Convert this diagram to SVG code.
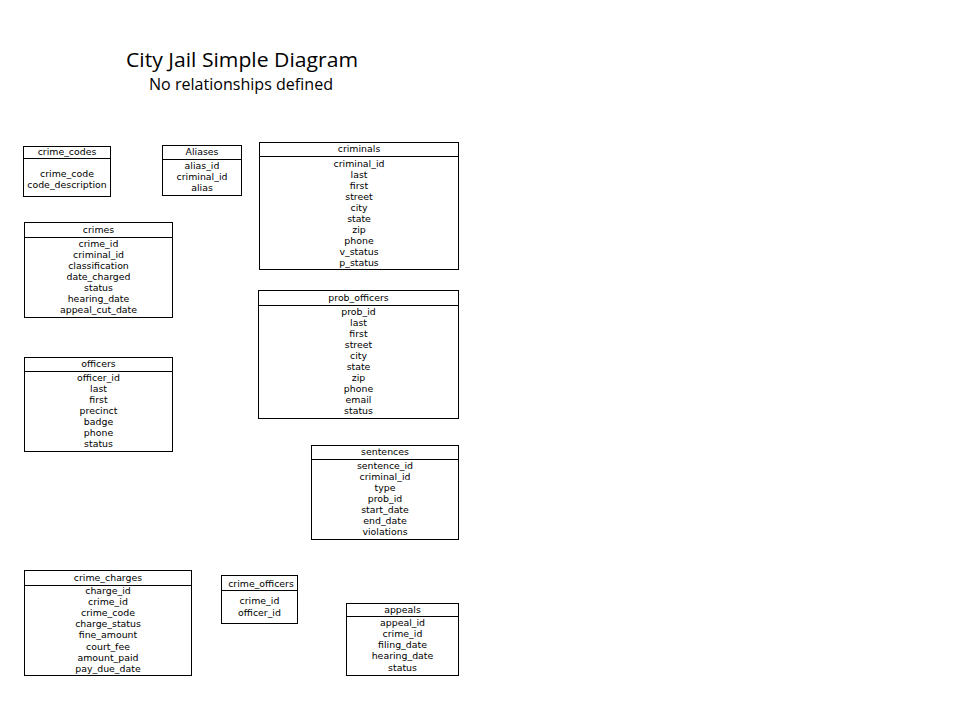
<svg xmlns="http://www.w3.org/2000/svg" width="960" height="720" viewBox="0 0 960 720">
<style>
.box{fill:#fff;stroke:#000;stroke-width:1}
.ln{stroke:#000;stroke-width:1}
text{font-family:"DejaVu Sans","Liberation Sans",sans-serif;font-size:9.4px;fill:#000;text-anchor:middle}
.t1{font-family:"Open Sans","Liberation Sans",sans-serif;font-size:20px;text-anchor:start}
.t2{font-family:"Open Sans","Liberation Sans",sans-serif;font-size:16px;text-anchor:start}
</style>
<rect width="960" height="720" fill="#fff"/>
<g id="title">
<text class="t1" x="126" y="66.5" textLength="232" lengthAdjust="spacingAndGlyphs">City Jail Simple Diagram</text>
<text class="t2" x="149" y="90" textLength="184" lengthAdjust="spacingAndGlyphs">No relationships defined</text>
</g>
<g id="connectors"></g>
<g id="crime_codes">
<rect class="box" x="23.5" y="146.5" width="87" height="50"/>
<line class="ln" x1="23.5" y1="158.5" x2="110.5" y2="158.5"/>
<text x="67" y="155">crime_codes</text>
<text x="67" y="176.5">crime_code</text>
<text x="67" y="187.5">code_description</text>
</g>
<g id="aliases">
<rect class="box" x="162.5" y="145.5" width="79" height="50"/>
<line class="ln" x1="162.5" y1="159.5" x2="241.5" y2="159.5"/>
<text x="202" y="155">Aliases</text>
<text x="202" y="168.5">alias_id</text>
<text x="202" y="179.5">criminal_id</text>
<text x="202" y="190.5">alias</text>
</g>
<g id="criminals">
<rect class="box" x="259.5" y="142.5" width="199" height="127"/>
<line class="ln" x1="259.5" y1="156.5" x2="458.5" y2="156.5"/>
<text x="359" y="152">criminals</text>
<text x="359" y="166.5">criminal_id</text>
<text x="359" y="177.5">last</text>
<text x="359" y="188.5">first</text>
<text x="359" y="199.5">street</text>
<text x="359" y="210.5">city</text>
<text x="359" y="221.5">state</text>
<text x="359" y="232.5">zip</text>
<text x="359" y="243.5">phone</text>
<text x="359" y="254.5">v_status</text>
<text x="359" y="265.5">p_status</text>
</g>
<g id="crimes">
<rect class="box" x="24.5" y="222.5" width="148" height="95"/>
<line class="ln" x1="24.5" y1="237.5" x2="172.5" y2="237.5"/>
<text x="98.5" y="233">crimes</text>
<text x="98.5" y="246.5">crime_id</text>
<text x="98.5" y="257.5">criminal_id</text>
<text x="98.5" y="268.5">classification</text>
<text x="98.5" y="279.5">date_charged</text>
<text x="98.5" y="290.5">status</text>
<text x="98.5" y="301.5">hearing_date</text>
<text x="98.5" y="312.5">appeal_cut_date</text>
</g>
<g id="officers">
<rect class="box" x="24.5" y="357.5" width="148" height="94"/>
<line class="ln" x1="24.5" y1="371.5" x2="172.5" y2="371.5"/>
<text x="98.5" y="367">officers</text>
<text x="98.5" y="380.5">officer_id</text>
<text x="98.5" y="391.5">last</text>
<text x="98.5" y="402.5">first</text>
<text x="98.5" y="413.5">precinct</text>
<text x="98.5" y="424.5">badge</text>
<text x="98.5" y="435.5">phone</text>
<text x="98.5" y="446.5">status</text>
</g>
<g id="prob_officers">
<rect class="box" x="258.5" y="290.5" width="200" height="128"/>
<line class="ln" x1="258.5" y1="305.5" x2="458.5" y2="305.5"/>
<text x="358.5" y="300.5">prob_officers</text>
<text x="358.5" y="314.5">prob_id</text>
<text x="358.5" y="325.5">last</text>
<text x="358.5" y="336.5">first</text>
<text x="358.5" y="347.5">street</text>
<text x="358.5" y="358.5">city</text>
<text x="358.5" y="369.5">state</text>
<text x="358.5" y="380.5">zip</text>
<text x="358.5" y="391.5">phone</text>
<text x="358.5" y="402.5">email</text>
<text x="358.5" y="413.5">status</text>
</g>
<g id="sentences">
<rect class="box" x="311.5" y="445.5" width="147" height="94"/>
<line class="ln" x1="311.5" y1="459.5" x2="458.5" y2="459.5"/>
<text x="385" y="455">sentences</text>
<text x="385" y="468.5">sentence_id</text>
<text x="385" y="479.5">criminal_id</text>
<text x="385" y="490.5">type</text>
<text x="385" y="501.5">prob_id</text>
<text x="385" y="512.5">start_date</text>
<text x="385" y="523.5">end_date</text>
<text x="385" y="534.5">violations</text>
</g>
<g id="crime_charges">
<rect class="box" x="24.5" y="570.5" width="167" height="105"/>
<line class="ln" x1="24.5" y1="585.5" x2="191.5" y2="585.5"/>
<text x="108" y="580.5">crime_charges</text>
<text x="108" y="593.5">charge_id</text>
<text x="108" y="604.7">crime_id</text>
<text x="108" y="615.9">crime_code</text>
<text x="108" y="627.1">charge_status</text>
<text x="108" y="638.3">fine_amount</text>
<text x="108" y="649.5">court_fee</text>
<text x="108" y="660.7">amount_paid</text>
<text x="108" y="671.9">pay_due_date</text>
</g>
<g id="crime_officers">
<rect class="box" x="221.5" y="575.5" width="76" height="48"/>
<line class="ln" x1="221.5" y1="590.5" x2="297.5" y2="590.5"/>
<text x="261" y="586.5">crime_officers</text>
<text x="259.5" y="603.5">crime_id</text>
<text x="259.5" y="615.5">officer_id</text>
</g>
<g id="appeals">
<rect class="box" x="346.5" y="603.5" width="112" height="72"/>
<line class="ln" x1="346.5" y1="616.5" x2="458.5" y2="616.5"/>
<text x="402.5" y="613">appeals</text>
<text x="402.5" y="625.5">appeal_id</text>
<text x="402.5" y="636.7">crime_id</text>
<text x="402.5" y="648">filing_date</text>
<text x="402.5" y="659.3">hearing_date</text>
<text x="402.5" y="670.5">status</text>
</g>
</svg>
